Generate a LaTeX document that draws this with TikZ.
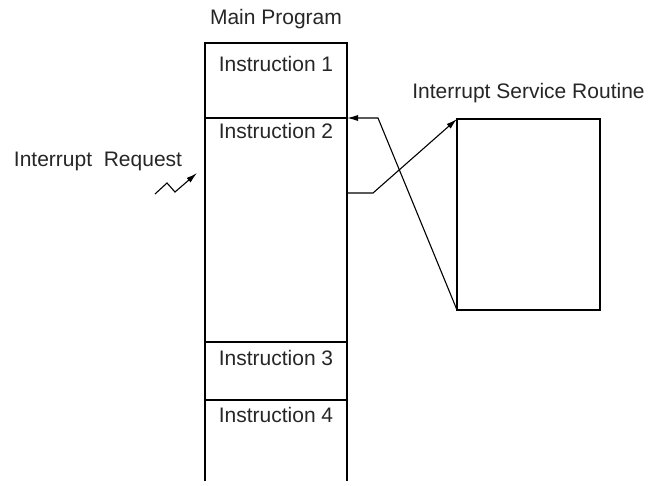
\documentclass[tikz,border=0pt]{standalone}
\usepackage{fontspec}
\setmainfont{Liberation Sans}
\usetikzlibrary{positioning, arrows.meta}

\begin{document}
\begin{tikzpicture}[x=1pt, y=-1pt, font=\fontsize{21}{24}\selectfont,
    seg/.style={minimum width=142pt, inner sep=0pt, outer sep=0pt, line width=2.2pt},
    txt/.style={anchor=base, inner sep=0pt, text=black!85},
    flow/.style={-{Latex[length=11pt, width=6pt]}, line width=1.1pt}]
  \useasboundingbox (0,0) rectangle (648,486);

  % main program column
  \node[seg, draw, minimum height=75pt, anchor=north west](seg1) at (205,43){};
  \node[seg, draw, minimum height=224pt, below=0pt of seg1](seg2){};
  \node[seg, draw, minimum height=58pt, below=0pt of seg2](seg3){};
  \node[seg, minimum height=81pt, below=0pt of seg3](seg4){};
  \draw[line width=2.2pt] (seg4.south west) -- (seg4.north west) -- (seg4.north east) -- (seg4.south east);

  % service routine
  \node[seg, draw, minimum width=143pt, minimum height=191pt, anchor=north west](isr) at (457,119){};

  % texts
  \node[txt](main) at ([yshift=18pt]seg1.north){Main Program};
  \node[txt](ins1) at ([yshift=-29pt]seg1.north){Instruction 1};
  \node[txt](ins2) at ([yshift=-21pt]seg2.north){Instruction 2};
  \node[txt](ins3) at ([yshift=-23pt]seg3.north){Instruction 3};
  \node[txt](ins4) at ([yshift=-22pt]seg4.north){Instruction 4};
  \node[txt](isrtitle) at ([yshift=20pt]isr.north){Interrupt Service Routine};
  \node[txt](irqtitle) at (98,167){Interrupt\ \ Request};

  % interrupt request
  \coordinate (irq) at (155,194);
  \coordinate (irqtip) at (197,173);
  \draw[flow] (irq) -- (167,183) -- (175,192) -- (irqtip);

  % jump and return
  \draw[flow] ([yshift=-75pt]seg2.north east) -- ++(26,0) -- (isr.north west);
  \draw[flow] (isr.south west) -- ([xshift=31pt]seg2.north east) -- (seg2.north east);
\end{tikzpicture}
\end{document}
